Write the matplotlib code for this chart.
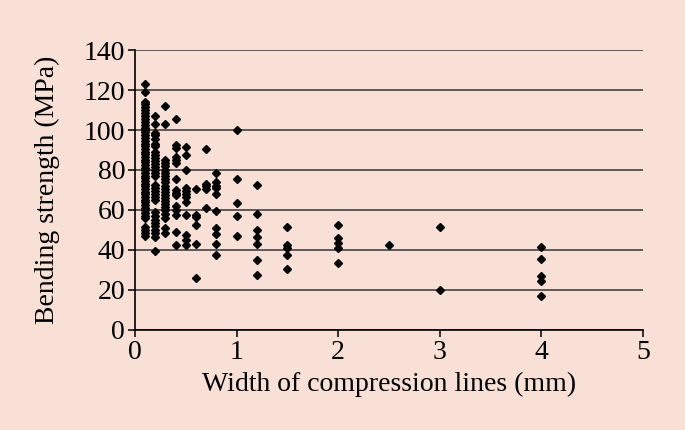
import numpy as np
import matplotlib
matplotlib.use("Agg")
from matplotlib import pyplot as plt

# bending strength (MPa), one list per line width (mm)
s_01 = [123, 119, 114, 113, 111.5, 110, 108.5, 107, 105.5, 104, 102.5, 101, 100, 99,
        97.5, 96, 94.5, 93, 92, 90.5, 89, 88, 86.5, 85, 84, 82.5, 81, 80, 78.5, 77,
        76, 74.5, 73, 72, 70.5, 69, 68, 66.5, 65, 64, 62.5, 61, 60, 58.5, 57, 56,
        51.5, 50, 48.5, 47]
s_02 = [107, 103, 98.5, 97.5, 95.5, 93, 92, 89, 87.5, 86, 84.5, 83, 81.5, 80, 78.5,
        77, 72.5, 71, 69.5, 68, 66.5, 65, 59, 57, 55, 53.5, 52, 50, 48.5, 46.5, 39.5]
s_03 = [112, 103, 85, 83.5, 82, 80, 78.5, 77, 75.5, 74, 72, 70.5, 69, 67.5, 66,
        64.5, 63, 61.5, 60, 58, 56, 51, 48.5]
s_04 = [105.5, 92.5, 91, 86.5, 85, 83.5, 75.5, 70, 68.5, 67.5, 62, 60, 57.5, 49, 42.5]
s_05 = [91.5, 87.5, 80, 71, 69.5, 68, 66.5, 64, 57.5, 47.5, 45, 42.5]
s_06 = [70.5, 57.5, 56.5, 52.5, 43, 26]
s_07 = [90.5, 73, 72, 70.5, 61]
s_08 = [78.5, 74, 72, 71, 68, 59.5, 51, 48, 43, 37.5]
s_10 = [100, 75.5, 63.5, 57, 47]
s_12 = [72.5, 58, 50, 46.5, 43, 35, 27.5]
s_15 = [51.5, 42.5, 41, 37.5, 30.5]
s_20 = [52.5, 46, 43.5, 41, 33.5]
s_25 = [42.5]
s_30 = [51.5, 20]
s_40 = [41.5, 35.5, 27, 24.5, 17]

widths = [0.1, 0.2, 0.3, 0.4, 0.5, 0.6, 0.7, 0.8, 1.0, 1.2, 1.5, 2.0, 2.5, 3.0, 4.0]
strengths = [s_01, s_02, s_03, s_04, s_05, s_06, s_07, s_08, s_10, s_12, s_15,
             s_20, s_25, s_30, s_40]

x = np.concatenate([[w] * len(s) for w, s in zip(widths, strengths)])
y = np.concatenate(strengths)

bg = "#f8e0d6"
plt.rcParams["font.family"] = ["Liberation Serif", "DejaVu Serif"]

fig = plt.figure(figsize=(6.85, 4.30), dpi=100, facecolor=bg)
ax = fig.add_axes([0.197, 0.2326, 0.7417, 0.6511], facecolor=bg)

ax.plot(x, y, linestyle="none", marker="D", markersize=3.6, color="black", zorder=3)

ax.set_xlim(0, 5)
ax.set_ylim(0, 140)
ax.set_xticks(range(0, 6))
ax.set_yticks(range(0, 141, 20))
ax.yaxis.grid(True, color="#333333", linewidth=1.1)
ax.set_axisbelow(True)

for side in ["top", "right"]:
    ax.spines[side].set_visible(False)
ax.spines["left"].set_color("black")
ax.spines["bottom"].set_color("black")
ax.spines["left"].set_linewidth(1.2)
ax.spines["bottom"].set_linewidth(1.2)
ax.tick_params(direction="out", length=5, width=1.1, labelsize=20, pad=2)

ax.set_xlabel("Width of compression lines (mm)", fontsize=20, labelpad=5)
ax.set_ylabel("Bending strength (MPa)", fontsize=20, labelpad=17)

fig.savefig("out.png", dpi=100, facecolor=bg)
